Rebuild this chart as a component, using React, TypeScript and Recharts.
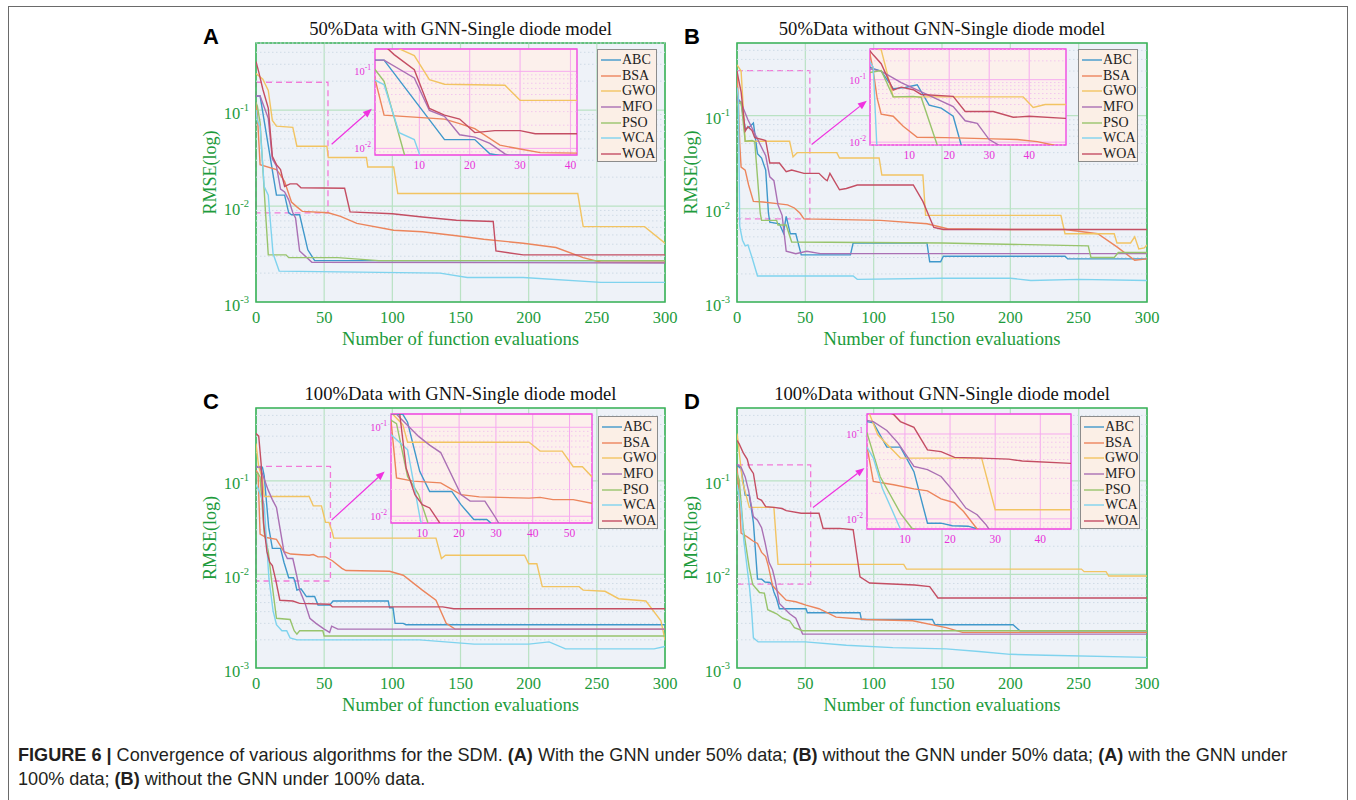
import React from 'react';
import { LineChart, Line, XAxis, YAxis, CartesianGrid, ReferenceLine, ReferenceArea, Legend } from 'recharts';

type Pt = [number, number];

const ALGORITHMS = ['ABC', 'BSA', 'GWO', 'MFO', 'PSO', 'WCA', 'WOA'];
const ALGO_COLORS = ['#3f98cb', '#ec855c', '#f2c462', '#aa70b4', '#98c46c', '#7fd3ee', '#c44e63'];

const X_TICKS = [0, 50, 100, 150, 200, 250, 300];
const Y_DECADES = [0.001, 0.01, 0.1];
const Y_MINOR = [
  0.002, 0.003, 0.004, 0.005, 0.006, 0.007, 0.008, 0.009,
  0.02, 0.03, 0.04, 0.05, 0.06, 0.07, 0.08, 0.09,
  0.2, 0.3, 0.4, 0.5,
];
const INSET_Y_TICKS = [0.01, 0.1];
const INSET_TICKS_40 = [10, 20, 30, 40];
const INSET_TICKS_50 = [10, 20, 30, 40, 50];

// (A) 50% data with GNN
const A_ABC: Pt[] = [[0, 0.14], [3, 0.14], [15, 0.013], [21, 0.013], [24, 0.0085], [26, 0.0081], [32, 0.0081], [38, 0.0035], [43, 0.0027], [300, 0.0027]];
const A_BSA: Pt[] = [[0, 0.12], [1, 0.09], [3, 0.027], [15, 0.024], [18, 0.021], [21, 0.018], [26, 0.011], [30, 0.0098], [34, 0.0088], [53, 0.0085], [62, 0.0078], [74, 0.0066], [101, 0.0056], [122, 0.0054], [147, 0.0049], [167, 0.0045], [196, 0.0041], [220, 0.0037], [240, 0.0029], [253, 0.0026], [300, 0.0026]];
const A_GWO: Pt[] = [[0, 0.24], [5, 0.21], [9, 0.16], [12, 0.078], [15, 0.068], [27, 0.066], [30, 0.042], [52, 0.042], [53, 0.032], [81, 0.032], [82, 0.0255], [101, 0.0255], [104, 0.0135], [236, 0.0135], [240, 0.0061], [285, 0.0061], [300, 0.0041]];
const A_MFO: Pt[] = [[0, 0.14], [3, 0.14], [9, 0.082], [12, 0.031], [15, 0.026], [18, 0.015], [21, 0.014], [24, 0.0116], [27, 0.0085], [29, 0.0075], [32, 0.0034], [41, 0.0026], [300, 0.00255]];
const A_PSO: Pt[] = [[0, 0.12], [1, 0.11], [3, 0.074], [7, 0.0085], [9, 0.0031], [22, 0.0031], [24, 0.0029], [60, 0.0029], [90, 0.0027], [300, 0.0027]];
const A_WCA: Pt[] = [[0, 0.1], [1, 0.078], [3, 0.067], [6, 0.016], [9, 0.013], [10, 0.0085], [12.5, 0.0032], [17, 0.0021], [135, 0.002], [155, 0.0018], [196, 0.0018], [253, 0.0016], [300, 0.0016]];
const A_WOA: Pt[] = [[0, 0.32], [2, 0.25], [5, 0.165], [9, 0.105], [12, 0.033], [15, 0.027], [18, 0.024], [21, 0.016], [25, 0.017], [30, 0.017], [33, 0.0155], [65, 0.0153], [69, 0.0087], [100, 0.0083], [122, 0.0077], [147, 0.0071], [174, 0.0069], [176, 0.0034], [196, 0.0031], [300, 0.0031]];

// (B) 50% data without GNN
const B_ABC: Pt[] = [[0, 0.16], [1, 0.15], [3, 0.137], [6, 0.072], [9, 0.075], [12, 0.083], [15, 0.039], [18, 0.035], [21, 0.026], [23, 0.009], [24, 0.0072], [31, 0.0069], [34, 0.0055], [36, 0.0083], [39, 0.0054], [43, 0.0054], [47, 0.0032], [83, 0.0032], [85, 0.0043], [139, 0.0043], [141, 0.0027], [149, 0.0027], [151, 0.0031], [240, 0.0031], [242, 0.0029], [300, 0.0029]];
const B_BSA: Pt[] = [[0, 0.3], [1, 0.14], [2, 0.05], [3, 0.028], [6, 0.026], [8.5, 0.018], [12, 0.012], [19, 0.0118], [31, 0.0113], [37, 0.011], [42, 0.0102], [46, 0.009], [49, 0.0078], [105, 0.0075], [139, 0.0069], [154, 0.0061], [200, 0.006], [240, 0.006], [264, 0.0054], [278, 0.0039], [291, 0.0028], [300, 0.0029]];
const B_GWO: Pt[] = [[0, 0.35], [3, 0.3], [6, 0.053], [38.5, 0.053], [41, 0.036], [44, 0.04], [73, 0.04], [75, 0.035], [104, 0.035], [106, 0.023], [136, 0.023], [138, 0.0085], [237, 0.0085], [240, 0.0054], [276, 0.0054], [278, 0.0043], [288, 0.0043], [291, 0.005], [294, 0.0037], [298, 0.0038], [300, 0.0041]];
const B_MFO: Pt[] = [[0, 0.15], [3, 0.137], [8, 0.09], [14, 0.06], [21, 0.037], [24, 0.022], [27, 0.02], [30, 0.011], [33, 0.0085], [36, 0.0035], [43, 0.0033], [51, 0.0035], [61, 0.0033], [300, 0.0033]];
const B_PSO: Pt[] = [[0, 0.13], [3, 0.14], [6, 0.053], [11, 0.054], [13, 0.052], [17, 0.009], [18, 0.0075], [29, 0.0075], [30, 0.0067], [36, 0.0067], [40, 0.0044], [150, 0.0043], [257, 0.004], [259, 0.003], [276, 0.003], [279, 0.0034], [300, 0.0034]];
const B_WCA: Pt[] = [[0, 0.2], [1, 0.16], [2, 0.0065], [4, 0.0046], [6, 0.004], [8, 0.0041], [11, 0.003], [15, 0.0019], [50, 0.0019], [85, 0.0019], [88, 0.00175], [150, 0.0018], [200, 0.0018], [215, 0.0017], [250, 0.00175], [300, 0.0017]];
const B_WOA: Pt[] = [[0, 0.3], [1, 0.25], [3, 0.18], [6, 0.068], [8, 0.076], [11, 0.069], [13, 0.058], [21, 0.054], [24, 0.031], [31, 0.031], [36, 0.025], [40, 0.026], [49, 0.024], [60, 0.024], [64, 0.021], [66, 0.02], [68, 0.024], [75, 0.016], [80, 0.0165], [88, 0.018], [129, 0.018], [136, 0.012], [144, 0.0063], [151, 0.006], [300, 0.006]];

// (C) 100% data with GNN
const C_ABC: Pt[] = [[0, 0.14], [4.7, 0.14], [6, 0.114], [9.3, 0.032], [12, 0.019], [18, 0.019], [20.5, 0.0135], [24, 0.0092], [27.5, 0.0092], [28.5, 0.0085], [30, 0.0068], [33, 0.007], [37, 0.0058], [43, 0.0058], [45.5, 0.0047], [54, 0.0047], [56.5, 0.0052], [97, 0.0052], [98, 0.0044], [100.5, 0.0044], [102, 0.003], [108, 0.003], [110, 0.0029], [300, 0.0029]];
const C_BSA: Pt[] = [[0, 0.13], [1.5, 0.12], [3, 0.027], [7.5, 0.0248], [15, 0.0237], [20.5, 0.0175], [25.5, 0.0165], [39, 0.016], [42, 0.0163], [45.5, 0.0154], [51, 0.0154], [56, 0.014], [63, 0.0116], [66, 0.011], [98, 0.0108], [108, 0.0098], [122, 0.0068], [132, 0.0053], [139.5, 0.003], [146, 0.0026], [300, 0.0026]];
const C_GWO: Pt[] = [[0, 0.25], [2, 0.14], [4.7, 0.107], [6, 0.068], [39, 0.068], [42, 0.054], [48, 0.054], [51, 0.036], [53.5, 0.036], [56, 0.028], [57, 0.0244], [132, 0.0244], [136, 0.0148], [139, 0.016], [197, 0.016], [200, 0.013], [206, 0.013], [210, 0.0074], [237, 0.0074], [240, 0.0068], [256, 0.0066], [266, 0.0055], [286, 0.0052], [297, 0.0032], [300, 0.002]];
const C_MFO: Pt[] = [[0, 0.14], [3, 0.14], [9, 0.079], [12, 0.063], [15, 0.052], [20.5, 0.0175], [23, 0.0148], [27, 0.0148], [30, 0.0095], [32, 0.0068], [36, 0.0049], [39.5, 0.0034], [44, 0.003], [50, 0.0026], [54, 0.0024], [55.5, 0.0028], [60, 0.0026], [300, 0.0026]];
const C_PSO: Pt[] = [[0, 0.12], [1.5, 0.12], [3, 0.11], [6, 0.028], [9, 0.0175], [11.5, 0.0085], [15, 0.0034], [25, 0.0033], [28, 0.0025], [30, 0.0023], [32, 0.0025], [49, 0.0025], [50, 0.0022], [300, 0.0022]];
const C_WCA: Pt[] = [[0, 0.09], [1.5, 0.083], [6, 0.056], [9.5, 0.009], [12.5, 0.0041], [15, 0.0029], [19, 0.0025], [22.5, 0.0025], [25, 0.0021], [30, 0.002], [120, 0.002], [160, 0.0018], [200, 0.0018], [215, 0.0019], [227, 0.0016], [292, 0.0016], [300, 0.0017]];
const C_WOA: Pt[] = [[0, 0.32], [2, 0.3], [3.8, 0.15], [5.6, 0.035], [8, 0.0175], [10, 0.0135], [12, 0.0124], [14.5, 0.0087], [17.5, 0.0053], [27, 0.0052], [32, 0.0049], [54, 0.0048], [56, 0.0045], [137, 0.0045], [145, 0.0043], [300, 0.0043]];

// (D) 100% data without GNN
const D_ABC: Pt[] = [[0, 0.15], [1.6, 0.14], [3, 0.135], [6, 0.07], [9, 0.07], [12, 0.036], [15, 0.0089], [18, 0.0089], [20.5, 0.0083], [24, 0.0082], [25.5, 0.0078], [27, 0.0065], [29, 0.0055], [31, 0.0043], [50.5, 0.0043], [51.5, 0.0039], [90, 0.0039], [91, 0.0033], [143, 0.0033], [145, 0.0029], [202, 0.0029], [207, 0.0025], [300, 0.0025]];
const D_BSA: Pt[] = [[0, 0.14], [1.6, 0.071], [3, 0.0276], [7.5, 0.0252], [12, 0.0226], [15, 0.0214], [18, 0.0172], [21, 0.0155], [23, 0.0122], [26, 0.0076], [31, 0.0063], [36, 0.0053], [43, 0.0051], [50.5, 0.0047], [60, 0.0043], [72.5, 0.0035], [94.5, 0.0033], [128.5, 0.0032], [153, 0.0027], [165, 0.0024], [300, 0.0024]];
const D_GWO: Pt[] = [[0, 0.32], [1, 0.25], [2.2, 0.17], [4, 0.098], [9, 0.052], [27, 0.052], [30, 0.0128], [122, 0.0128], [124, 0.0114], [252, 0.0114], [254, 0.0107], [270, 0.0107], [272, 0.0096], [300, 0.0096]];
const D_MFO: Pt[] = [[0, 0.15], [3, 0.14], [6, 0.11], [8.5, 0.078], [12, 0.0415], [15, 0.038], [18, 0.0316], [20.5, 0.022], [23.5, 0.0134], [26, 0.0112], [28, 0.0085], [31, 0.0049], [38.5, 0.0038], [43, 0.0034], [48, 0.0023], [300, 0.0023]];
const D_PSO: Pt[] = [[0, 0.12], [1.6, 0.103], [4.5, 0.0316], [9, 0.0117], [11.5, 0.0078], [16.5, 0.0064], [20, 0.0063], [22.5, 0.0042], [29, 0.0038], [33.5, 0.0034], [38.5, 0.0032], [42, 0.0027], [48, 0.0025], [300, 0.0025]];
const D_WCA: Pt[] = [[0, 0.09], [1.6, 0.07], [3, 0.052], [5, 0.023], [9, 0.0076], [10.5, 0.0045], [12, 0.0021], [15.5, 0.0019], [31, 0.0019], [50, 0.0019], [80, 0.00175], [114, 0.00165], [153, 0.0016], [177, 0.0015], [200, 0.0014], [226, 0.00137], [300, 0.0013]];
const D_WOA: Pt[] = [[0, 0.27], [1.5, 0.25], [4.5, 0.2], [7.5, 0.17], [9, 0.14], [12, 0.12], [15, 0.065], [18, 0.062], [21, 0.053], [27, 0.052], [33, 0.0506], [36, 0.048], [47, 0.045], [60, 0.045], [63, 0.031], [75, 0.031], [85, 0.03], [90, 0.0094], [97, 0.0081], [130, 0.0077], [141, 0.0074], [147, 0.0056], [300, 0.0056]];

const SERIF = '"Liberation Serif", "Times New Roman", serif';
const SANS = '"Liberation Sans", Arial, sans-serif';
const GREEN_TEXT = '#1d9b3c';
const AXIS_GREEN = '#3db35c';
const MAJOR_GRID = '#b9e2c3';
const MINOR_GRID = '#cfdbe6';
const PLOT_BG = '#eef2f8';
const INSET_BG = '#fcf0ec';
const INSET_BORDER = '#f04ee0';
const INSET_GRID = '#f6aaef';
const INSET_MINOR = '#f3c6ee';
const MAGENTA_TEXT = '#e832d8';
const DASH_MAGENTA = '#f27ad8';
const ARROW_MAGENTA = '#f032e0';
const LEGEND_BG = '#fbefe6';

interface Rect { left: number; top: number; right: number; bottom: number }
interface PanelCfg {
  letter: string;
  title: string;
  plot: Rect;
  yMax: number;
  series: Pt[][];
  box: { x2: number; y1: number; y2: number };
  arrow: [Pt, Pt];
  inset: Rect & { xDomain: [number, number]; yDomain: [number, number]; ticks: number[] };
  legend: { left: number; top: number };
}

const PANELS: PanelCfg[] = [
  {
    letter: 'A', title: '50%Data with GNN-Single diode model',
    plot: { left: 256, top: 43, right: 665, bottom: 302 }, yMax: 0.5,
    series: [A_ABC, A_BSA, A_GWO, A_MFO, A_PSO, A_WCA, A_WOA],
    box: { x2: 52.8, y1: 0.0085, y2: 0.195 },
    arrow: [[55.5, 0.044], [85, 0.103]],
    inset: { left: 375, top: 49, right: 577, bottom: 155, xDomain: [1.2, 41.3], yDomain: [0.0082, 0.195], ticks: INSET_TICKS_40 },
    legend: { left: 597, top: 49 },
  },
  {
    letter: 'B', title: '50%Data without GNN-Single diode model',
    plot: { left: 737, top: 43, right: 1147, bottom: 302 }, yMax: 0.6,
    series: [B_ABC, B_BSA, B_GWO, B_MFO, B_PSO, B_WCA, B_WOA],
    box: { x2: 53.3, y1: 0.0078, y2: 0.303 },
    arrow: [[54.6, 0.049], [95, 0.144]],
    inset: { left: 870, top: 49, right: 1066, bottom: 145, xDomain: [0.2, 49.2], yDomain: [0.009, 0.31], ticks: INSET_TICKS_40 },
    legend: { left: 1078, top: 49 },
  },
  {
    letter: 'C', title: '100%Data with GNN-Single diode model',
    plot: { left: 256, top: 408, right: 665, bottom: 668 }, yMax: 0.6,
    series: [C_ABC, C_BSA, C_GWO, C_MFO, C_PSO, C_WCA, C_WOA],
    box: { x2: 54.6, y1: 0.0085, y2: 0.1426 },
    arrow: [[55.4, 0.038], [94.4, 0.126]],
    inset: { left: 391, top: 414, right: 592, bottom: 523, xDomain: [1.5, 56.1], yDomain: [0.0084, 0.141], ticks: INSET_TICKS_50 },
    legend: { left: 598, top: 416 },
  },
  {
    letter: 'D', title: '100%Data without GNN-Single diode model',
    plot: { left: 737, top: 408, right: 1147, bottom: 668 }, yMax: 0.6,
    series: [D_ABC, D_BSA, D_GWO, D_MFO, D_PSO, D_WCA, D_WOA],
    box: { x2: 53.9, y1: 0.0079, y2: 0.148 },
    arrow: [[55.6, 0.052], [93.3, 0.137]],
    inset: { left: 867, top: 414, right: 1071, bottom: 529, xDomain: [1.6, 46.8], yDomain: [0.0076, 0.172], ticks: INSET_TICKS_40 },
    legend: { left: 1080, top: 416 },
  },
];

const toObj = (arr: Pt[]) => arr.map(([x, y]) => ({ x, y }));

const ArrowShape = (props: any) => {
  const { x1, y1, x2, y2 } = props;
  if ([x1, y1, x2, y2].some((v) => typeof v !== 'number' || isNaN(v))) return null;
  const ang = Math.atan2(y2 - y1, x2 - x1);
  const L = 9;
  const W = 3.6;
  const bx = x2 - L * Math.cos(ang);
  const by = y2 - L * Math.sin(ang);
  const pts = `${x2},${y2} ${bx - W * Math.sin(ang)},${by + W * Math.cos(ang)} ${bx + W * Math.sin(ang)},${by - W * Math.cos(ang)}`;
  return (
    <g>
      <line x1={x1} y1={y1} x2={bx} y2={by} stroke={ARROW_MAGENTA} strokeWidth={1.2} />
      <polygon points={pts} fill={ARROW_MAGENTA} />
    </g>
  );
};

const MainXTick = ({ x, y, payload }: any) => (
  <text x={x} y={y + 20.5} textAnchor="middle" fill={GREEN_TEXT} fontFamily={SERIF} fontSize={16.5}>
    {payload.value}
  </text>
);

const MainYTick = ({ x, y, payload }: any) => {
  const exp = Math.round(Math.log10(payload.value));
  return (
    <text x={x - 7} y={y} textAnchor="end" fill={GREEN_TEXT} fontFamily={SERIF} fontSize={16.5}>
      <tspan dy={8.5}>10</tspan>
      <tspan dy={-8} fontSize={10.5}>{exp}</tspan>
    </text>
  );
};

const InsetXTick = ({ x, y, payload }: any) => (
  <text x={x} y={y + 13.8} textAnchor="middle" fill={MAGENTA_TEXT} fontFamily={SERIF} fontSize={11.5}>
    {payload.value}
  </text>
);

const InsetYTick = ({ x, y, payload }: any) => {
  const exp = Math.round(Math.log10(payload.value));
  return (
    <text x={x - 4} y={y} textAnchor="end" fill={MAGENTA_TEXT} fontFamily={SERIF} fontSize={10.5}>
      <tspan dy={4}>10</tspan>
      <tspan dy={-5} fontSize={7.5}>{exp}</tspan>
    </text>
  );
};

const LegendBox = () => (
  <div style={{ width: 60, height: 113, boxSizing: 'border-box', border: '1px solid #8c8c8c', background: LEGEND_BG, paddingTop: 2 }}>
    {ALGORITHMS.map((name, i) => (
      <div key={name} style={{ display: 'flex', alignItems: 'center', height: 15.7 }}>
        <svg width={23} height={10} style={{ display: 'block' }}>
          <line x1={3} x2={23} y1={5} y2={5} stroke={ALGO_COLORS[i]} strokeWidth={1.4} />
        </svg>
        <span style={{ fontFamily: SERIF, fontSize: 14, color: '#222', lineHeight: '15.7px', marginLeft: 1 }}>{name}</span>
      </div>
    ))}
  </div>
);

const YW = 60, MT = 6, MR = 26, XH = 34;

function MainChart({ cfg }: { cfg: PanelCfg }) {
  const { plot } = cfg;
  const w = plot.right - plot.left + YW + MR;
  const h = plot.bottom - plot.top + MT + XH;
  const originX = plot.left - YW;
  const originY = plot.top - MT;
  return (
    <div style={{ position: 'absolute', left: originX, top: originY }}>
      <LineChart width={w} height={h} margin={{ top: MT, right: MR, bottom: 0, left: 0 }}>
        <CartesianGrid fill={PLOT_BG} stroke={MAJOR_GRID} strokeWidth={1.2} />
        <XAxis type="number" dataKey="x" domain={[0, 300]} ticks={X_TICKS} interval={0} allowDataOverflow
          height={XH} tickSize={0} tickMargin={0} tick={MainXTick} axisLine={false} tickLine={false} />
        <YAxis type="number" dataKey="y" scale="log" domain={[0.001, cfg.yMax]} ticks={Y_DECADES} interval={0} allowDataOverflow
          width={YW} tickSize={0} tickMargin={0} tick={MainYTick} axisLine={false} tickLine={false} />
        {Y_MINOR.map((v) => (
          <ReferenceLine key={v} y={v} stroke={MINOR_GRID} strokeWidth={1} strokeDasharray="1.5 2.5" />
        ))}
        {cfg.series.map((pts, i) => (
          <Line key={ALGORITHMS[i]} name={ALGORITHMS[i]} data={toObj(pts)} dataKey="y" type="linear"
            stroke={ALGO_COLORS[i]} strokeWidth={1.4} dot={false} activeDot={false} isAnimationActive={false} />
        ))}
        <ReferenceArea x1={0} x2={cfg.box.x2} y1={cfg.box.y1} y2={cfg.box.y2} fill="none" fillOpacity={0}
          stroke={DASH_MAGENTA} strokeWidth={1.3} strokeDasharray="6 4" />
        <ReferenceLine segment={[{ x: cfg.arrow[0][0], y: cfg.arrow[0][1] }, { x: cfg.arrow[1][0], y: cfg.arrow[1][1] }]}
          shape={ArrowShape} />
        <ReferenceArea x1={0} x2={300} y1={0.001} y2={cfg.yMax} fill="none" fillOpacity={0}
          stroke={AXIS_GREEN} strokeWidth={1.6} />
        <Legend layout="horizontal" verticalAlign="middle" align="center"
          wrapperStyle={{ left: cfg.legend.left - originX, top: cfg.legend.top - originY, width: 60, height: 113 }}
          content={() => <LegendBox />} />
      </LineChart>
    </div>
  );
}

const IYW = 30, IMT = 2, IMR = 2, IXH = 22;

function InsetChart({ cfg }: { cfg: PanelCfg }) {
  const r = cfg.inset;
  const w = r.right - r.left + IYW + IMR;
  const h = r.bottom - r.top + IMT + IXH;
  return (
    <div style={{ position: 'absolute', left: r.left - IYW, top: r.top - IMT }}>
      <LineChart width={w} height={h} margin={{ top: IMT, right: IMR, bottom: 0, left: 0 }}>
        <CartesianGrid fill={INSET_BG} stroke={INSET_GRID} strokeWidth={1} />
        <XAxis type="number" dataKey="x" domain={r.xDomain} ticks={r.ticks} interval={0} allowDataOverflow
          height={IXH} tickSize={0} tickMargin={0} tick={InsetXTick} axisLine={false} tickLine={false} />
        <YAxis type="number" dataKey="y" scale="log" domain={r.yDomain} ticks={INSET_Y_TICKS} interval={0} allowDataOverflow
          width={IYW} tickSize={0} tickMargin={0} tick={InsetYTick} axisLine={false} tickLine={false} />
        {Y_MINOR.map((v) => (
          <ReferenceLine key={v} y={v} stroke={INSET_MINOR} strokeWidth={1} strokeDasharray="1.5 2.5" />
        ))}
        {cfg.series.map((pts, i) => (
          <Line key={ALGORITHMS[i]} name={ALGORITHMS[i]} data={toObj(pts)} dataKey="y" type="linear"
            stroke={ALGO_COLORS[i]} strokeWidth={1.4} dot={false} activeDot={false} isAnimationActive={false} />
        ))}
        <ReferenceArea x1={r.xDomain[0]} x2={r.xDomain[1]} y1={r.yDomain[0]} y2={r.yDomain[1]} fill="none" fillOpacity={0}
          stroke={INSET_BORDER} strokeWidth={1.3} />
      </LineChart>
    </div>
  );
}

function PanelText({ cfg }: { cfg: PanelCfg }) {
  const { plot } = cfg;
  const cx = (plot.left + plot.right) / 2;
  const cy = (plot.top + plot.bottom) / 2;
  return (
    <g>
      <text x={plot.left - 53} y={plot.top + 1} fontFamily={SANS} fontWeight="bold" fontSize={22} fill="#000">{cfg.letter}</text>
      <text x={cx} y={plot.top - 8} textAnchor="middle" fontFamily={SERIF} fontSize={18.6} fill="#111">{cfg.title}</text>
      <text x={cx} y={plot.bottom + 42.5} textAnchor="middle" fontFamily={SERIF} fontSize={18.6} fill={GREEN_TEXT}>
        Number of function evaluations
      </text>
      <text x={plot.left - 40} y={cy} textAnchor="middle" fontFamily={SERIF} fontSize={18}
        fill={GREEN_TEXT} transform={`rotate(-90 ${plot.left - 40} ${cy})`}>
        RMSE(log)
      </text>
    </g>
  );
}

export default function App() {
  return (
    <div style={{ position: 'absolute', left: 0, top: 0, width: 1356, height: 800, background: '#fff', overflow: 'hidden' }}>
      <div style={{ position: 'absolute', left: 8, top: 6, width: 1340, height: 900, border: '1.5px solid #6a6a6a', boxSizing: 'border-box' }} />
      {PANELS.map((p) => (
        <React.Fragment key={p.letter}>
          <MainChart cfg={p} />
          <InsetChart cfg={p} />
        </React.Fragment>
      ))}
      <svg width={1356} height={800} style={{ position: 'absolute', left: 0, top: 0, pointerEvents: 'none' }}>
        {PANELS.map((p) => <PanelText key={p.letter} cfg={p} />)}
      </svg>
      <div style={{ position: 'absolute', left: 18, top: 743, fontFamily: SANS, fontSize: 18.1, lineHeight: '24px', color: '#231f20', whiteSpace: 'nowrap' }}>
        <b>FIGURE 6 |</b> Convergence of various algorithms for the SDM. <b>(A)</b> With the GNN under 50% data; <b>(B)</b> without the GNN under 50% data; <b>(A)</b> with the GNN under
        <br />
        100% data; <b>(B)</b> without the GNN under 100% data.
      </div>
    </div>
  );
}
